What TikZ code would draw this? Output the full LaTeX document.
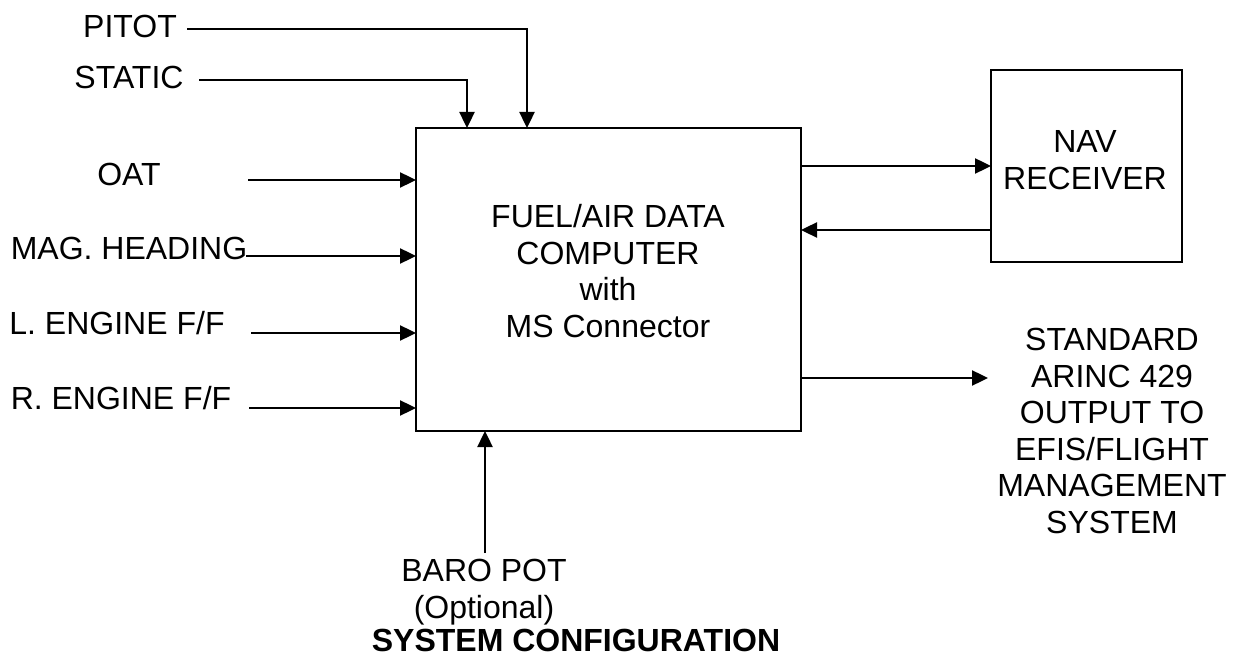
\documentclass[tikz,border=0pt]{standalone}
\usepackage{fontspec}
\setmainfont{Liberation Sans}
\usetikzlibrary{arrows.meta}
\begin{document}
\begin{tikzpicture}[x=1pt,y=-1pt,
  lbl/.style={inner sep=0pt, outer sep=0pt, font=\fontsize{32}{36.5}\selectfont, align=center},
  boxs/.style={draw, line width=2.4pt, inner sep=0pt, outer sep=0pt, anchor=north west},
  arr/.style={line width=2.4pt, -{Triangle[length=16pt,width=15pt]}}]
\useasboundingbox (0,0) rectangle (1243,660);
% boxes
\node[boxs, minimum width=385pt, minimum height=303pt] (main) at (416,128) {};
\node[boxs, minimum width=191pt, minimum height=192pt] (nav) at (991,70) {};
% texts
\node[lbl] (maintext) at (608,271) {FUEL/AIR DATA\\COMPUTER\\with\\MS Connector};
\node[lbl] (navtext) at (1085,160) {NAV\\RECEIVER};
\node[lbl] (arinc) at (1112,431) {STANDARD\\ARINC 429\\OUTPUT TO\\EFIS/FLIGHT\\MANAGEMENT\\SYSTEM};
\node[lbl] (pitot) at (130,26) {PITOT};
\node[lbl] (static) at (129,77) {STATIC};
\node[lbl] (oat) at (129,174) {OAT};
\node[lbl] (mag) at (129,248) {MAG. HEADING};
\node[lbl] (leng) at (117,323) {L. ENGINE F/F};
\node[lbl] (reng) at (121,398) {R. ENGINE F/F};
\node[lbl] (baro) at (484,592) {BARO POT\\(Optional)};
\node[lbl, font=\fontsize{32}{36.5}\selectfont\bfseries] (title) at (576,640) {SYSTEM CONFIGURATION};
% connector start points
\coordinate (pitotS) at (187,29);
\coordinate (staticS) at (199,80);
\coordinate (oatS) at (248,180);
\coordinate (magS) at (246,256);
\coordinate (lengS) at (251,333);
\coordinate (rengS) at (249,408);
\coordinate (baroS) at (485,553);
\coordinate (arincE) at (988,378);
% connectors
\draw[arr] (pitotS) -| ([xshift=111pt]main.north west);
\draw[arr] (staticS) -| ([xshift=51pt]main.north west);
\draw[arr] (oatS) -- (oatS -| main.west);
\draw[arr] (magS) -- (magS -| main.west);
\draw[arr] (lengS) -- (lengS -| main.west);
\draw[arr] (rengS) -- (rengS -| main.west);
\draw[arr] (baroS) -- (baroS |- main.south);
\draw[arr] (main.east |- nav.west) -- (nav.west);
\draw[arr] ([yshift=-64pt]nav.west) coordinate (navB) -- (main.east |- navB);
\draw[arr] (main.east |- arincE) -- (arincE);
\end{tikzpicture}
\end{document}
